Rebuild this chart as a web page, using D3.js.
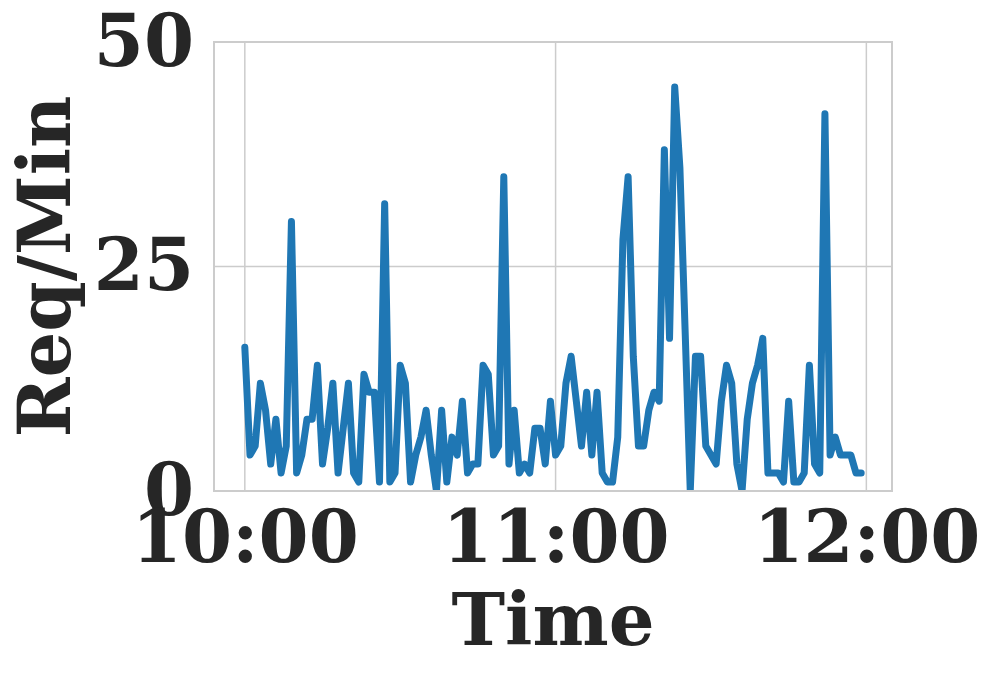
<!DOCTYPE html>
<html lang="en">
<head>
  <meta charset="utf-8" />
  <title>Req/Min</title>
  <script src="https://cdn.jsdelivr.net/npm/d3@7"></script>
  <style>
    body { margin: 0; background: #ffffff; }
    text { font-family: "DejaVu Serif", serif; font-weight: bold; fill: #262626; }
  </style>
</head>
<body>
  <script>
    // requests per minute, one value per minute starting at 10:00
    var reqPerMin = [
      16, 4, 5, 12, 9, 3, 8, 2, 5, 30,
      2, 4, 8, 8, 14, 3, 7, 12, 2, 7,
      12, 2, 1, 13, 11, 11, 1, 32, 1, 2,
      14, 12, 1, 4, 6, 9, 4, 0, 9, 1,
      6, 4, 10, 2, 3, 3, 14, 13, 4, 5,
      35, 3, 9, 2, 3, 2, 7, 7, 3, 10,
      4, 5, 12, 15, 10, 5, 11, 4, 11, 2,
      1, 1, 6, 28, 35, 15, 5, 5, 9, 11,
      10, 38, 17, 45, 36, 18, 0, 15, 15, 5,
      4, 3, 10, 14, 12, 3, 0, 8, 12, 14,
      17, 2, 2, 2, 1, 10, 1, 1, 2, 14,
      3, 2, 42, 4, 6, 4, 4, 4, 2, 2
    ];
    var yTicks = [0, 25, 50];
    var xTickHours = [10, 11, 12];
    var xTickLabels = ["10:00", "11:00", "12:00"];

    var width = 996;
    var height = 675;
    var plotLeft = 214, plotRight = 892, plotTop = 42, plotBottom = 491;

    var startTime = new Date(2020, 0, 1, 10, 0);
    var times = reqPerMin.map(function (d, i) { return d3.timeMinute.offset(startTime, i); });
    var pad = (reqPerMin.length - 1) * 0.05 * 60000;

    var x = d3.scaleTime()
      .domain([new Date(times[0].getTime() - pad), new Date(times[times.length - 1].getTime() + pad)])
      .range([plotLeft, plotRight]);
    var y = d3.scaleLinear().domain([0, 50]).range([plotBottom, plotTop]);

    var tickDates = xTickHours.map(function (h) { return new Date(2020, 0, 1, h, 0); });

    var svg = d3.select("body").append("svg")
      .attr("width", width)
      .attr("height", height);

    // grid
    svg.append("g").selectAll("line")
      .data(tickDates)
      .enter().append("line")
      .attr("x1", function (d) { return x(d); })
      .attr("x2", function (d) { return x(d); })
      .attr("y1", plotTop)
      .attr("y2", plotBottom)
      .attr("stroke", "#cccccc")
      .attr("stroke-width", 1.5);

    svg.append("g").selectAll("line")
      .data(yTicks)
      .enter().append("line")
      .attr("x1", plotLeft)
      .attr("x2", plotRight)
      .attr("y1", function (d) { return y(d); })
      .attr("y2", function (d) { return y(d); })
      .attr("stroke", "#cccccc")
      .attr("stroke-width", 1.5);

    svg.append("clipPath").attr("id", "plot-clip")
      .append("rect")
      .attr("x", plotLeft).attr("y", plotTop)
      .attr("width", plotRight - plotLeft).attr("height", plotBottom - plotTop);

    var line = d3.line()
      .x(function (d, i) { return x(times[i]); })
      .y(function (d) { return y(d); });

    svg.append("path")
      .datum(reqPerMin)
      .attr("clip-path", "url(#plot-clip)")
      .attr("d", line)
      .attr("fill", "none")
      .attr("stroke", "#1f77b4")
      .attr("stroke-width", 7)
      .attr("stroke-linejoin", "round")
      .attr("stroke-linecap", "round");

    // frame
    svg.append("rect")
      .attr("x", plotLeft).attr("y", plotTop)
      .attr("width", plotRight - plotLeft).attr("height", plotBottom - plotTop)
      .attr("fill", "none")
      .attr("stroke", "#cccccc")
      .attr("stroke-width", 2);

    // axes
    var yAxis = svg.append("g")
      .attr("transform", "translate(" + plotLeft + ",0)")
      .call(d3.axisLeft(y).tickValues(yTicks).tickSize(0).tickPadding(20));
    var xAxis = svg.append("g")
      .attr("transform", "translate(0," + plotBottom + ")")
      .call(d3.axisBottom(x).tickValues(tickDates).tickSize(0).tickPadding(20)
        .tickFormat(function (d, i) { return xTickLabels[i]; }));

    [yAxis, xAxis].forEach(function (g) {
      g.select(".domain").remove();
      g.selectAll("text")
        .attr("font-family", "DejaVu Serif")
        .attr("font-weight", "bold")
        .attr("font-size", 72)
        .attr("fill", "#262626");
    });

    svg.append("text")
      .attr("text-anchor", "middle")
      .attr("x", (plotLeft + plotRight) / 2)
      .attr("y", 645)
      .attr("font-size", 72)
      .text("Time");

    svg.append("text")
      .attr("text-anchor", "middle")
      .attr("transform", "translate(70," + ((plotTop + plotBottom) / 2) + ") rotate(-90)")
      .attr("font-size", 72)
      .text("Req/Min");
  </script>
</body>
</html>
